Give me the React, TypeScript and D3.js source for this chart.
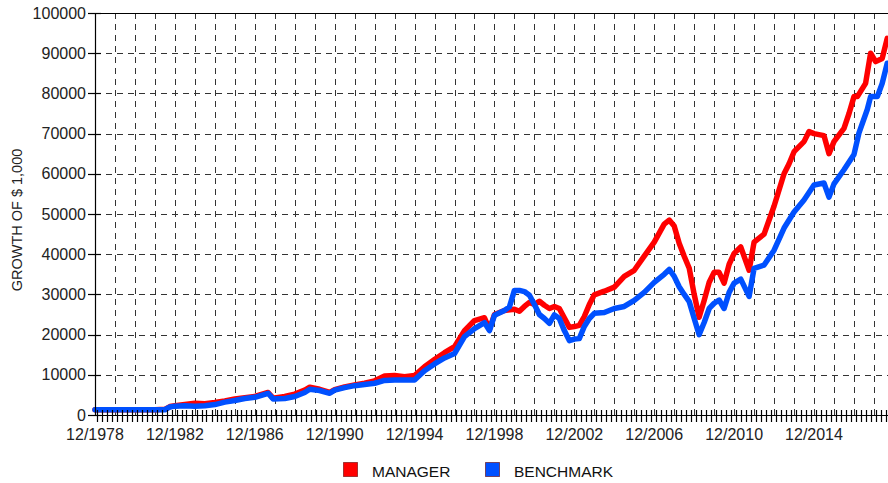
import React from "react";
import * as d3 from "d3";

const managerDates = [
  "1978-12", "1979-12", "1980-12", "1981-12", "1982-06", "1982-09", "1982-12", "1983-06", "1983-12",
  "1984-06", "1984-12", "1985-06", "1985-12", "1986-06", "1986-12", "1987-08", "1987-11", "1988-06",
  "1988-12", "1989-06", "1989-09", "1990-03", "1990-09", "1990-12", "1991-06", "1991-12", "1992-06",
  "1992-12", "1993-06", "1993-12", "1994-06", "1994-12", "1995-06", "1995-12", "1996-06", "1996-12",
  "1997-06", "1997-12", "1998-06", "1998-09", "1998-12", "1999-06", "1999-12", "2000-03", "2000-06",
  "2000-09", "2000-12", "2001-03", "2001-06", "2001-09", "2001-12", "2002-03", "2002-09", "2002-12",
  "2003-03", "2003-06", "2003-09", "2003-12", "2004-06", "2004-12", "2005-06", "2005-12", "2006-06",
  "2006-12", "2007-06", "2007-09", "2007-12", "2008-03", "2008-06", "2008-09", "2008-12", "2009-03",
  "2009-06", "2009-09", "2009-12", "2010-03", "2010-06", "2010-09", "2010-12", "2011-04", "2011-09",
  "2011-12", "2012-06", "2012-12", "2013-06", "2013-09", "2013-12", "2014-06", "2014-09", "2014-12",
  "2015-06", "2015-09", "2015-12", "2016-06", "2016-09", "2016-12", "2017-02", "2017-07", "2017-10",
  "2018-01", "2018-05", "2018-08",
];
const managerValues = [
  1300, 1300, 1300, 1300, 1400, 2100, 2300, 2600, 2900,
  2800, 3100, 3500, 4000, 4300, 4600, 5600, 4200, 4600,
  5200, 6200, 6900, 6400, 5600, 6300, 7000, 7500, 7900,
  8500, 9700, 9800, 9500, 9800, 12000, 13800, 15500, 17000,
  21000, 23500, 24200, 21300, 25000, 26000, 26300, 25800, 27000,
  28000, 27500, 28300, 27300, 26500, 27000, 26500, 21800, 22000,
  22300, 24500, 27500, 29900, 30800, 31800, 34500, 36000, 39500,
  43000, 47500, 48500, 47000, 42700, 39500, 36500, 30000, 24300,
  28500, 33000, 35500, 35500, 32800, 37500, 40200, 41800, 36000,
  43000, 45000, 52000, 60000, 62500, 65500, 68000, 70500, 70000,
  69500, 65000, 68000, 71300, 75000, 79200, 79200, 82500, 90000,
  87900, 88700, 93700,
];

const benchmarkDates = [
  "1978-12", "1979-12", "1980-12", "1981-12", "1982-06", "1982-09", "1982-12", "1983-06", "1983-12",
  "1984-06", "1984-12", "1985-06", "1985-12", "1986-06", "1986-12", "1987-08", "1987-11", "1988-06",
  "1988-12", "1989-06", "1989-09", "1990-03", "1990-09", "1990-12", "1991-06", "1991-12", "1992-06",
  "1992-12", "1993-06", "1993-12", "1994-06", "1994-12", "1995-06", "1995-12", "1996-06", "1996-12",
  "1997-06", "1997-12", "1998-06", "1998-09", "1998-12", "1999-06", "1999-09", "1999-12", "2000-03",
  "2000-06", "2000-09", "2000-12", "2001-03", "2001-06", "2001-09", "2001-12", "2002-03", "2002-06",
  "2002-09", "2002-12", "2003-03", "2003-06", "2003-09", "2003-12", "2004-06", "2004-12", "2005-06",
  "2005-12", "2006-06", "2006-12", "2007-06", "2007-09", "2007-12", "2008-03", "2008-06", "2008-09",
  "2008-12", "2009-03", "2009-06", "2009-09", "2009-12", "2010-03", "2010-06", "2010-09", "2010-12",
  "2011-04", "2011-09", "2011-12", "2012-06", "2012-12", "2013-06", "2013-12", "2014-06", "2014-12",
  "2015-06", "2015-09", "2015-12", "2016-06", "2016-12", "2017-03", "2017-08", "2017-10", "2018-02",
  "2018-05", "2018-08",
];
const benchmarkValues = [
  1300, 1300, 1300, 1300, 1300, 2000, 2200, 2300, 2200,
  2300, 2600, 3200, 3600, 4100, 4400, 5400, 4000, 4100,
  4600, 5600, 6400, 6100, 5400, 6200, 6800, 7300, 7600,
  7900, 8600, 8700, 8700, 8700, 11000, 12700, 14200, 15300,
  19500, 21500, 23000, 21000, 24800, 26000, 26900, 31000, 31000,
  30700, 29800, 27500, 25000, 24000, 22800, 24900, 24000, 21000,
  18500, 18900, 19000, 22000, 24000, 25300, 25500, 26500, 27000,
  28500, 30500, 33000, 35000, 36200, 34500, 31900, 30000, 28200,
  24000, 20000, 23000, 26500, 27800, 28600, 26500, 30500, 32800,
  33800, 29500, 36500, 37300, 41000, 46500, 50500, 53500, 57200,
  57700, 54200, 57500, 61000, 64800, 70100, 76000, 79200, 79200,
  82500, 87500,
];

const yTicks = [0, 10000, 20000, 30000, 40000, 50000, 60000, 70000, 80000, 90000, 100000];
const xLabelYears = [1978, 1982, 1986, 1990, 1994, 1998, 2002, 2006, 2010, 2014];
const seriesNames = ["MANAGER", "BENCHMARK"];
const seriesColors = ["#ff0000", "#0050ff"];

const W = 888;
const H = 483;
const left = 95;
const right = 888;
const top = 13;
const bottom = 415;
const FONT = "'Liberation Sans', Arial, sans-serif";

export default function App() {
  const parse = d3.timeParse("%Y-%m");
  const x = d3
    .scaleTime()
    .domain([new Date(1978, 11, 1), new Date(2018, 7, 15)])
    .range([left, right]);
  const y = d3.scaleLinear().domain([0, 100000]).range([bottom, top]);

  const mk = (dates: string[], vals: number[]) =>
    dates.map((d, i) => ({ date: parse(d) as Date, v: vals[i] }));
  const series = [mk(managerDates, managerValues), mk(benchmarkDates, benchmarkValues)];
  const line = d3
    .line<{ date: Date; v: number }>()
    .x((d) => x(d.date))
    .y((d) => y(d.v));

  const yearGrid = d3.range(1979, 2018).map((yr) => new Date(yr, 11, 1));
  const minorTicks = d3.timeMonth.every(3)!.range(new Date(1978, 11, 1), new Date(2018, 8, 1));

  return (
    <svg
      width={W}
      height={H}
      style={{ position: "absolute", left: 0, top: 0, background: "#fff" }}
      fontFamily={FONT}
    >
      {/* grid */}
      <g stroke="#333" strokeWidth={1} strokeDasharray="6,5">
        {yTicks.slice(1, -1).map((t) => (
          <line key={"h" + t} x1={left} x2={right} y1={Math.round(y(t)) + 0.5} y2={Math.round(y(t)) + 0.5} />
        ))}
        {yearGrid.map((d, i) => (
          <line key={"v" + i} x1={Math.round(x(d)) + 0.5} x2={Math.round(x(d)) + 0.5} y1={top} y2={bottom} />
        ))}
      </g>

      {/* lines */}
      {series.map((s, i) => (
        <path
          key={i}
          d={line(s) || ""}
          fill="none"
          stroke={seriesColors[i]}
          strokeWidth={5.5}
          strokeLinejoin="round"
          strokeLinecap="round"
        />
      ))}

      {/* axes */}
      <g stroke="#000" strokeWidth={1.2}>
        <line x1={left + 0.5} x2={left + 0.5} y1={top} y2={bottom} />
        <line x1={left} x2={right} y1={bottom + 0.5} y2={bottom + 0.5} />
        <line x1={left} x2={right} y1={top + 0.5} y2={top + 0.5} />
        {yTicks.map((t) => (
          <line key={"yt" + t} x1={88} x2={101} y1={Math.round(y(t)) + 0.5} y2={Math.round(y(t)) + 0.5} />
        ))}
        {minorTicks.map((d, i) => (
          <line key={"xt" + i} x1={Math.round(x(d)) + 0.5} x2={Math.round(x(d)) + 0.5} y1={410} y2={422} />
        ))}
      </g>

      {/* y tick labels */}
      {yTicks.map((t) => (
        <text key={"yl" + t} x={86} y={y(t)} dy="0.35em" textAnchor="end" fontSize={16} fill="#222">
          {t}
        </text>
      ))}

      {/* x tick labels */}
      {xLabelYears.map((yr) => (
        <text key={"xl" + yr} x={x(new Date(yr, 11, 1))} y={440} textAnchor="middle" fontSize={16} fill="#222">
          {"12/" + yr}
        </text>
      ))}

      {/* y axis title */}
      <text
        transform={`translate(22,${(top + bottom) / 2 + 6}) rotate(-90)`}
        textAnchor="middle"
        fontSize={14.5}
        fill="#222"
      >
        GROWTH OF $ 1,000
      </text>

      {/* legend */}
      {seriesNames.map((n, i) => {
        const lx = i === 0 ? 343 : 485;
        return (
          <g key={n}>
            <rect x={lx + 0.5} y={462.5} width={14} height={14} fill={seriesColors[i]} stroke="#600" strokeOpacity={0.6} />
            <text x={lx + 29} y={477} fontSize={15.5} fill="#111">
              {n}
            </text>
          </g>
        );
      })}
    </svg>
  );
}
